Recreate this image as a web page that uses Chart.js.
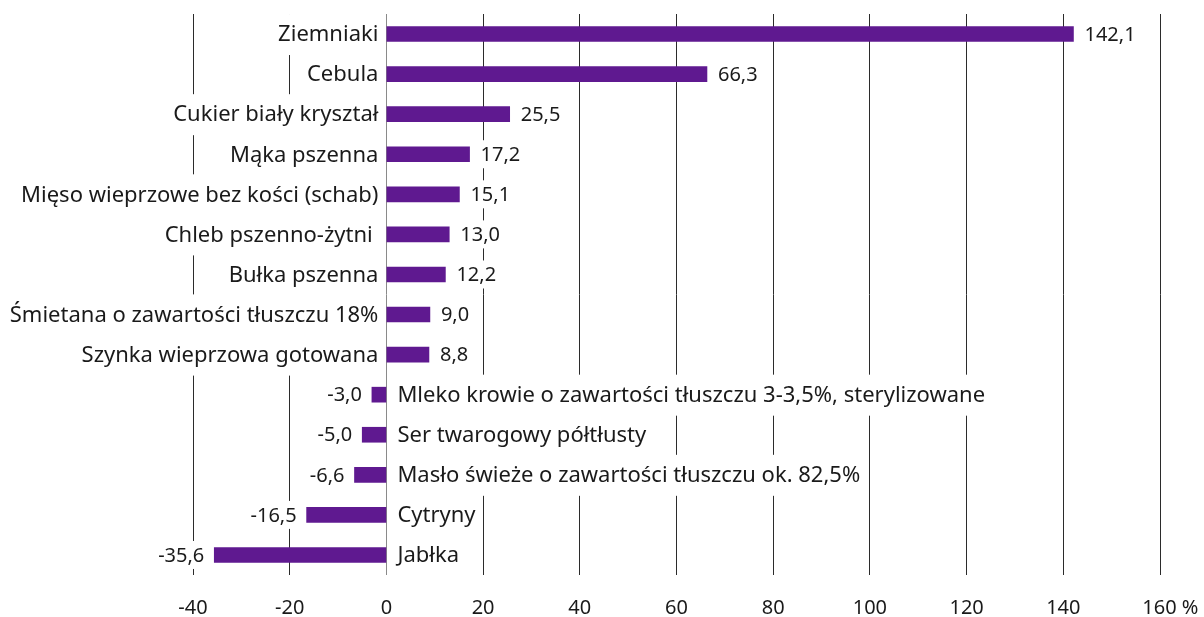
<!DOCTYPE html>
<html lang="pl">
<head>
<meta charset="utf-8">
<script src="https://cdn.jsdelivr.net/npm/chart.js@4/dist/chart.umd.min.js"></script>
<style>
  html, body { margin: 0; padding: 0; background: #fff; }
  #wrap { width: 1204px; height: 617px; position: relative; }
</style>
</head>
<body>
<div id="wrap"><canvas id="zmianyChart"></canvas></div>
<script>
// dane
const kategorie = [
    'Ziemniaki',
    'Cebula',
    'Cukier biały kryształ',
    'Mąka pszenna',
    'Mięso wieprzowe bez kości (schab)',
    'Chleb pszenno-żytni ',
    'Bułka pszenna',
    'Śmietana o zawartości tłuszczu 18%',
    'Szynka wieprzowa gotowana',
    'Mleko krowie o zawartości tłuszczu 3-3,5%, sterylizowane',
    'Ser twarogowy półtłusty',
    'Masło świeże o zawartości tłuszczu ok. 82,5%',
    'Cytryny',
    'Jabłka'
];
const zmiany = [142.1, 66.3, 25.5, 17.2, 15.1, 13.0, 12.2, 9.0, 8.8, -3.0, -5.0, -6.6, -16.5, -35.6];
const osX = { min: -40, max: 160, krok: 20 };

const FONT = '"Noto Sans", sans-serif';
const KOLOR_TEKSTU = '#1a1a1a';

// etykiety kategorii i wartości z białym tłem (zasłaniają linie siatki)
const etykiety = {
    id: 'etykiety',
    afterDatasetsDraw(chart) {
        const { ctx, scales: { x } } = chart;
        const meta = chart.getDatasetMeta(0);
        const zero = x.getPixelForValue(0);
        ctx.save();
        ctx.textBaseline = 'middle';
        ctx.textAlign = 'left';
        meta.data.forEach((bar, i) => {
            const v = zmiany[i];
            const yc = bar.y;
            const nazwa = kategorie[i];
            const wart = v.toFixed(1).replace('.', ',');
            ctx.font = `22px ${FONT}`;
            const wN = ctx.measureText(nazwa).width;
            ctx.font = `20px ${FONT}`;
            const wW = ctx.measureText(wart).width;
            let xN, xW;
            if (v >= 0) {
                xN = zero - 8 - wN;
                xW = bar.x + 11;
            } else {
                xN = zero + 11;
                xW = bar.x - 10 - wW;
            }
            ctx.fillStyle = '#fff';
            ctx.fillRect(xN - 3, yc - 20, wN + 6, 41);
            ctx.fillRect(xW - 3, yc - 14, wW + 6, 28);
            ctx.fillStyle = KOLOR_TEKSTU;
            ctx.font = `22px ${FONT}`;
            ctx.fillText(nazwa, xN, yc + 1);
            ctx.font = `20px ${FONT}`;
            ctx.fillText(wart, xW, yc + 1);
        });
        ctx.restore();
    }
};

const ctx = document.getElementById('zmianyChart').getContext('2d');
new Chart(ctx, {
    type: 'bar',
    data: {
        labels: kategorie,
        datasets: [{
            data: zmiany,
            backgroundColor: '#5f1990',
            barThickness: 15,
            borderWidth: 0
        }]
    },
    options: {
        indexAxis: 'y',
        responsive: true,
        maintainAspectRatio: false,
        animation: false,
        layout: { padding: { left: 193, right: 44, top: 14, bottom: 0 } },
        plugins: { legend: { display: false }, tooltip: { enabled: false } },
        scales: {
            x: {
                min: osX.min,
                max: osX.max,
                ticks: {
                    stepSize: osX.krok,
                    padding: 21,
                    color: KOLOR_TEKSTU,
                    font: { family: FONT, size: 20 },
                    maxRotation: 0,
                    callback: (v) => v === osX.max ? '    ' + v + ' %' : v
                },
                grid: {
                    drawTicks: false,
                    color: (c) => c.tick && c.tick.value === 0 ? '#8a8a8a' : '#2b2b2b',
                    lineWidth: 1
                },
                border: { display: false },
                afterFit: (s) => {
                    s.height = 42;
                    s.paddingLeft = 0;
                    s.paddingRight = 0;
                }
            },
            y: {
                display: false,
                grid: { display: false }
            }
        }
    },
    plugins: [etykiety]
});
</script>
</body>
</html>
